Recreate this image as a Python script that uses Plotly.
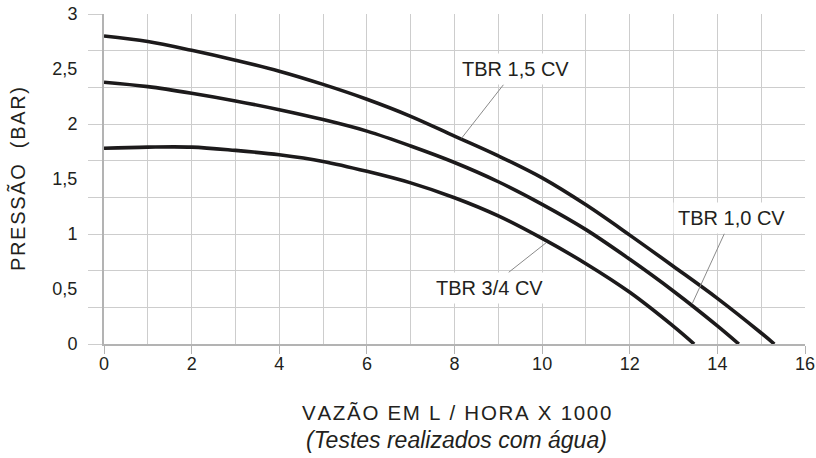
import plotly.graph_objects as go

# ---------------- data ----------------
flow_15 = [0, 1, 2, 3, 4, 5, 6, 7, 8, 9, 10, 11, 12, 13, 14, 15, 15.3]
pres_15 = [2.80, 2.75, 2.67, 2.58, 2.48, 2.36, 2.225, 2.07, 1.89, 1.71, 1.51, 1.265, 0.99, 0.705, 0.415, 0.10, 0.0]

flow_10 = [0, 1, 2, 3, 4, 5, 6, 7, 8, 9, 10, 11, 12, 13, 14, 14.49]
pres_10 = [2.38, 2.34, 2.28, 2.21, 2.13, 2.04, 1.935, 1.80, 1.65, 1.475, 1.27, 1.04, 0.77, 0.48, 0.165, 0.0]

flow_34 = [0, 1, 2, 3, 4, 5, 6, 7, 8, 9, 10, 11, 12, 13, 13.47]
pres_34 = [1.78, 1.79, 1.79, 1.76, 1.72, 1.66, 1.57, 1.465, 1.33, 1.165, 0.96, 0.73, 0.47, 0.16, 0.0]

y_tick_vals = [0, 0.5, 1, 1.5, 2, 2.5, 3]
y_tick_text = ["0", "0,5", "1", "1,5", "2", "2,5", "3"]

curve_labels = ["TBR 1,5 CV", "TBR 1,0 CV", "TBR 3/4 CV"]
label_points_x = [8.16, 13.43, 10.09]
label_points_y = [1.87, 0.37, 0.92]
label_offsets = [(54, -69), (39, -85), (-57, 45)]

x_title = "VAZÃO EM L / HORA X 1000"
x_subtitle = "(Testes realizados com água)"
y_title = "PRESSÃO  (BAR)"

# ---------------- styling ----------------
FONT = "Liberation Sans, Arial, Helvetica, sans-serif"
TXT = "#231f20"
GRID = "#cdcdcd"
AXIS = "#b3b3b3"
LINE = "#1c1a1b"

ML, MR, MT, MB = 104, 11, 14, 114
PW = 816 - ML - MR
PH = 458 - MT - MB


def spaced(s, gap="\u200a"):
    s = s.replace(" ", "\u00a0")
    return gap.join(list(s))


fig = go.Figure()
for xs, ys in [(flow_15, pres_15), (flow_10, pres_10), (flow_34, pres_34)]:
    fig.add_trace(go.Scatter(x=xs, y=ys, mode="lines",
                             line=dict(color=LINE, width=3.6, shape="spline", smoothing=1.0),
                             showlegend=False, hoverinfo="skip"))
# dummy trace so the label axis is drawn
fig.add_trace(go.Scatter(x=[None], y=[None], yaxis="y2", showlegend=False, hoverinfo="skip"))

annotations = []
for txt, px, py, (ax, ay) in zip(curve_labels, label_points_x, label_points_y, label_offsets):
    annotations.append(dict(x=px, y=py, xref="x", yref="y", text=txt, showarrow=True,
                            ax=ax, ay=ay, arrowhead=0, arrowwidth=1, arrowcolor="#8a8a8a",
                            standoff=0, bgcolor="white", borderpad=4,
                            font=dict(family=FONT, size=20, color=TXT)))

bottom = MT + PH
annotations.append(dict(x=(456 - ML) / PW, y=(bottom - 413) / PH, xref="paper", yref="paper",
                        text=spaced(x_title), showarrow=False, xanchor="center", yanchor="middle",
                        font=dict(family=FONT, size=20.5, color=TXT)))
annotations.append(dict(x=(456 - ML) / PW, y=(bottom - 440) / PH, xref="paper", yref="paper",
                        text="<i>" + x_subtitle + "</i>", showarrow=False, xanchor="center", yanchor="middle",
                        font=dict(family=FONT, size=23, color=TXT)))
annotations.append(dict(x=(17 - ML) / PW, y=0.5, xref="paper", yref="paper",
                        text=spaced(y_title), showarrow=False, xanchor="center", yanchor="middle",
                        textangle=-90, font=dict(family=FONT, size=20, color=TXT)))

fig.update_layout(
    width=816, height=458,
    margin=dict(l=ML, r=MR, t=MT, b=MB, autoexpand=False),
    paper_bgcolor="white", plot_bgcolor="white",
    font=dict(family=FONT, color=TXT, size=18),
    xaxis=dict(range=[0, 16], tick0=0, dtick=2, ticks="outside", ticklen=8, tickwidth=1.3,
               tickcolor=AXIS, showgrid=True, gridcolor=GRID, gridwidth=1.3,
               minor=dict(dtick=1, tick0=0, showgrid=True, gridcolor=GRID, gridwidth=1.3, ticks=""),
               showline=True, linecolor=AXIS, linewidth=2, zeroline=False, automargin=False,
               ticklabelstandoff=-6, ticklabeloverflow="allow",
               tickfont=dict(size=18, color=TXT), fixedrange=True),
    yaxis=dict(range=[0, 3], tick0=0, dtick=1 / 3, ticks="outside", ticklen=14, tickwidth=1.3,
               tickcolor=GRID, showgrid=True, gridcolor=GRID, gridwidth=1.3, automargin=False,
               showticklabels=False, showline=True, linecolor=AXIS, linewidth=2, zeroline=False,
               fixedrange=True),
    yaxis2=dict(range=[0, 3], overlaying="y", side="left", anchor="x", automargin=False,
                tickmode="array", tickvals=y_tick_vals, ticktext=y_tick_text,
                ticks="outside", ticklen=22, tickcolor="rgba(0,0,0,0)",
                showgrid=False, zeroline=False, showline=False, ticklabeloverflow="allow",
                tickfont=dict(size=18, color=TXT), fixedrange=True),
    annotations=annotations,
)

fig.write_html("out.html", post_script="document.body.style.margin='0';",
               config={"displayModeBar": False})
